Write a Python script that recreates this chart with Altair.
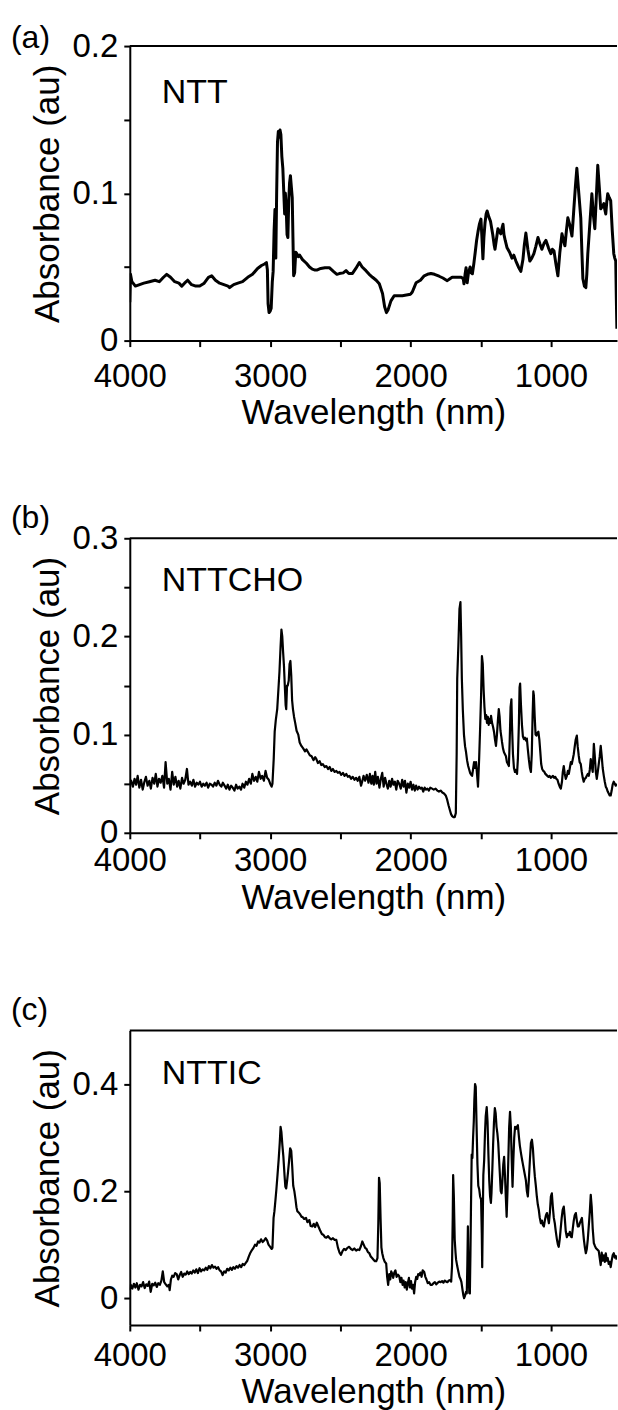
import altair as alt
import pandas as pd

# ---------------- data ----------------
panel_names = ["NTT", "NTTCHO", "NTTIC"]
panel_letters = ["(a)", "(b)", "(c)"]
x_title = "Wavelength (nm)"
y_title = "Absorbance (au)"
x_ticks = [4000, 3500, 3000, 2500, 2000, 1500, 1000]

spec_a = [
    (4000, 0.026), (3995, 0.045), (3985, 0.040), (3960, 0.037), (3930, 0.038), (3900, 0.039),
    (3860, 0.040), (3820, 0.041), (3790, 0.040), (3760, 0.043), (3737, 0.045), (3710, 0.043),
    (3680, 0.040), (3650, 0.039), (3630, 0.037), (3610, 0.039), (3588, 0.041), (3560, 0.038),
    (3530, 0.037), (3502, 0.037), (3470, 0.039), (3440, 0.043), (3417, 0.044), (3390, 0.041),
    (3360, 0.039), (3330, 0.038), (3300, 0.037), (3289, 0.036), (3260, 0.038), (3230, 0.039),
    (3197, 0.040), (3160, 0.043), (3126, 0.045), (3090, 0.049), (3062, 0.051), (3040, 0.052),
    (3027, 0.053), (3020, 0.048), (3015, 0.025), (3008, 0.019), (3000, 0.020), (2993, 0.022),
    (2985, 0.040), (2979, 0.047), (2972, 0.075), (2966, 0.089), (2960, 0.056), (2954, 0.100),
    (2948, 0.135), (2942, 0.142), (2936, 0.138), (2930, 0.143), (2924, 0.140), (2917, 0.125),
    (2910, 0.117), (2903, 0.100), (2897, 0.086), (2892, 0.100), (2886, 0.090), (2880, 0.072),
    (2874, 0.070), (2868, 0.095), (2862, 0.107), (2856, 0.112), (2850, 0.105), (2843, 0.097),
    (2838, 0.070), (2833, 0.044), (2826, 0.046), (2818, 0.060), (2810, 0.059), (2800, 0.057),
    (2790, 0.058), (2770, 0.055), (2742, 0.0525), (2720, 0.050), (2700, 0.0485), (2685, 0.048),
    (2664, 0.048), (2640, 0.049), (2610, 0.0495), (2579, 0.0495), (2550, 0.047), (2525, 0.045),
    (2508, 0.0455), (2480, 0.046), (2460, 0.0475), (2440, 0.0455), (2414, 0.0456), (2390, 0.049),
    (2365, 0.053), (2345, 0.050), (2318, 0.0475), (2295, 0.045), (2271, 0.043), (2245, 0.041),
    (2223, 0.0386), (2200, 0.032), (2185, 0.023), (2172, 0.019), (2160, 0.021), (2140, 0.027),
    (2117, 0.0305), (2090, 0.0305), (2059, 0.0305), (2030, 0.031), (2000, 0.0315), (1988, 0.033),
    (1975, 0.036), (1961, 0.0393), (1930, 0.041), (1903, 0.044), (1880, 0.045), (1855, 0.0456),
    (1830, 0.045), (1797, 0.0437), (1770, 0.0425), (1739, 0.0407), (1720, 0.042), (1704, 0.043),
    (1670, 0.043), (1640, 0.043), (1625, 0.042), (1620, 0.0386), (1612, 0.045), (1605, 0.0495),
    (1600, 0.044), (1597, 0.0393), (1588, 0.046), (1576, 0.050), (1568, 0.046), (1560, 0.0454),
    (1550, 0.052), (1541, 0.059), (1530, 0.068), (1520, 0.074), (1510, 0.079), (1499, 0.0825),
    (1492, 0.070), (1485, 0.0555), (1478, 0.070), (1470, 0.080), (1462, 0.086), (1455, 0.088),
    (1443, 0.084), (1431, 0.081), (1415, 0.072), (1405, 0.065), (1399, 0.062), (1390, 0.068),
    (1378, 0.076), (1367, 0.074), (1357, 0.0725), (1350, 0.076), (1342, 0.079), (1335, 0.072),
    (1326, 0.068), (1313, 0.063), (1295, 0.060), (1278, 0.056), (1265, 0.058), (1250, 0.054),
    (1232, 0.050), (1215, 0.047), (1200, 0.055), (1190, 0.065), (1179, 0.073), (1165, 0.062),
    (1151, 0.054), (1137, 0.056), (1122, 0.059), (1108, 0.064), (1093, 0.070), (1080, 0.066),
    (1065, 0.062), (1050, 0.066), (1036, 0.068), (1018, 0.063), (1001, 0.059), (990, 0.062),
    (979, 0.061), (965, 0.052), (951, 0.044), (937, 0.060), (922, 0.0725), (911, 0.068),
    (901, 0.0644), (890, 0.075), (880, 0.0834), (865, 0.078), (851, 0.071), (844, 0.080),
    (837, 0.090), (826, 0.105), (816, 0.117), (802, 0.100), (788, 0.0834), (780, 0.060),
    (773, 0.042), (762, 0.037), (752, 0.036), (745, 0.045), (738, 0.059), (723, 0.080),
    (709, 0.0997), (698, 0.085), (688, 0.076), (677, 0.098), (667, 0.119), (656, 0.104),
    (646, 0.0895), (635, 0.091), (624, 0.093), (617, 0.089), (610, 0.086), (603, 0.094),
    (596, 0.0997), (585, 0.097), (575, 0.095), (564, 0.075), (553, 0.059), (546, 0.056),
    (539, 0.054), (535, 0.030), (531, 0.008),
]

spec_b = [
    (4000, 0.050), (3990, 0.053), (3978, 0.047), (3966, 0.055), (3955, 0.049), (3944, 0.058),
    (3932, 0.046), (3920, 0.054), (3908, 0.044), (3896, 0.052), (3885, 0.057), (3873, 0.048),
    (3861, 0.053), (3850, 0.045), (3838, 0.056), (3826, 0.050), (3815, 0.060), (3803, 0.047),
    (3792, 0.055), (3780, 0.051), (3768, 0.058), (3756, 0.046), (3745, 0.072), (3733, 0.050),
    (3722, 0.055), (3710, 0.044), (3698, 0.062), (3687, 0.049), (3675, 0.057), (3663, 0.047),
    (3652, 0.053), (3640, 0.045), (3628, 0.056), (3617, 0.050), (3605, 0.054), (3593, 0.065),
    (3582, 0.049), (3570, 0.052), (3558, 0.048), (3547, 0.054), (3535, 0.047), (3523, 0.051),
    (3512, 0.049), (3500, 0.052), (3488, 0.047), (3477, 0.050), (3465, 0.048), (3453, 0.051),
    (3442, 0.046), (3430, 0.050), (3418, 0.049), (3407, 0.047), (3395, 0.051), (3383, 0.048),
    (3372, 0.053), (3360, 0.049), (3348, 0.047), (3337, 0.051), (3325, 0.048), (3313, 0.045),
    (3302, 0.049), (3290, 0.044), (3278, 0.048), (3267, 0.046), (3255, 0.043), (3243, 0.049),
    (3232, 0.045), (3220, 0.047), (3208, 0.044), (3197, 0.050), (3185, 0.046), (3173, 0.052),
    (3162, 0.049), (3150, 0.055), (3138, 0.050), (3127, 0.060), (3115, 0.053), (3103, 0.057),
    (3092, 0.052), (3080, 0.062), (3068, 0.055), (3057, 0.058), (3045, 0.053), (3033, 0.063),
    (3022, 0.056), (3010, 0.054), (3000, 0.050), (2990, 0.047), (2984, 0.050), (2975, 0.075),
    (2968, 0.103), (2960, 0.115), (2950, 0.126), (2942, 0.145), (2934, 0.164), (2926, 0.190),
    (2920, 0.207), (2914, 0.200), (2908, 0.184), (2902, 0.170), (2896, 0.150), (2890, 0.130),
    (2886, 0.126), (2880, 0.150), (2875, 0.150), (2868, 0.155), (2862, 0.172), (2856, 0.175),
    (2850, 0.160), (2844, 0.135), (2838, 0.126), (2830, 0.118), (2822, 0.112), (2812, 0.104),
    (2800, 0.100), (2790, 0.092), (2778, 0.0885), (2765, 0.086), (2752, 0.083), (2742, 0.085),
    (2730, 0.082), (2718, 0.079), (2705, 0.078), (2692, 0.074), (2680, 0.077), (2671, 0.075),
    (2660, 0.071), (2648, 0.073), (2636, 0.069), (2625, 0.070), (2612, 0.067), (2600, 0.068),
    (2588, 0.065), (2576, 0.067), (2565, 0.063), (2553, 0.065), (2541, 0.062), (2529, 0.063),
    (2518, 0.061), (2506, 0.062), (2494, 0.059), (2482, 0.061), (2470, 0.058), (2458, 0.060),
    (2447, 0.057), (2436, 0.058), (2424, 0.055), (2412, 0.057), (2400, 0.054), (2388, 0.056),
    (2377, 0.053), (2365, 0.057), (2353, 0.048), (2345, 0.052), (2335, 0.058), (2324, 0.053),
    (2312, 0.059), (2300, 0.051), (2290, 0.060), (2280, 0.050), (2271, 0.058), (2262, 0.049),
    (2252, 0.062), (2243, 0.050), (2233, 0.057), (2222, 0.046), (2212, 0.055), (2202, 0.061),
    (2192, 0.047), (2182, 0.056), (2172, 0.050), (2162, 0.045), (2152, 0.053), (2142, 0.047),
    (2132, 0.055), (2122, 0.049), (2112, 0.052), (2102, 0.044), (2092, 0.053), (2081, 0.050),
    (2070, 0.045), (2060, 0.054), (2050, 0.047), (2040, 0.053), (2030, 0.041), (2020, 0.050),
    (2010, 0.046), (2000, 0.052), (1990, 0.044), (1980, 0.049), (1970, 0.043), (1961, 0.048),
    (1950, 0.044), (1940, 0.047), (1930, 0.045), (1920, 0.046), (1910, 0.042), (1900, 0.046),
    (1890, 0.044), (1880, 0.045), (1870, 0.043), (1860, 0.046), (1847, 0.045), (1835, 0.044),
    (1822, 0.045), (1810, 0.043), (1798, 0.042), (1786, 0.043), (1774, 0.041), (1762, 0.040),
    (1750, 0.038), (1740, 0.034), (1730, 0.028), (1720, 0.023), (1712, 0.019), (1704, 0.017),
    (1695, 0.016), (1686, 0.016), (1678, 0.020), (1672, 0.080), (1668, 0.157), (1660, 0.190),
    (1652, 0.228), (1645, 0.235), (1640, 0.200), (1635, 0.157), (1628, 0.125), (1620, 0.100),
    (1612, 0.088), (1605, 0.082), (1598, 0.074), (1590, 0.068), (1584, 0.065), (1576, 0.061),
    (1568, 0.059), (1562, 0.058), (1555, 0.065), (1548, 0.072), (1541, 0.066), (1534, 0.072),
    (1527, 0.060), (1520, 0.047), (1512, 0.075), (1505, 0.106), (1498, 0.140), (1492, 0.180),
    (1486, 0.172), (1480, 0.146), (1474, 0.128), (1468, 0.116), (1462, 0.120), (1456, 0.112),
    (1450, 0.118), (1444, 0.110), (1438, 0.116), (1432, 0.112), (1427, 0.119), (1420, 0.112),
    (1413, 0.108), (1406, 0.103), (1399, 0.095), (1392, 0.0885), (1385, 0.100), (1378, 0.115),
    (1372, 0.126), (1366, 0.118), (1360, 0.104), (1354, 0.098), (1349, 0.0925), (1342, 0.086),
    (1335, 0.082), (1328, 0.080), (1321, 0.078), (1314, 0.072), (1307, 0.070), (1300, 0.068),
    (1294, 0.095), (1288, 0.128), (1282, 0.136), (1278, 0.110), (1271, 0.080), (1264, 0.066),
    (1257, 0.062), (1250, 0.064), (1242, 0.060), (1236, 0.075), (1229, 0.110), (1224, 0.148),
    (1220, 0.152), (1214, 0.130), (1207, 0.110), (1200, 0.098), (1193, 0.0955), (1186, 0.097),
    (1179, 0.094), (1172, 0.096), (1165, 0.085), (1158, 0.075), (1150, 0.066), (1143, 0.062),
    (1137, 0.080), (1131, 0.120), (1126, 0.144), (1122, 0.140), (1116, 0.118), (1110, 0.100),
    (1104, 0.099), (1097, 0.102), (1090, 0.103), (1083, 0.095), (1076, 0.082), (1070, 0.070),
    (1063, 0.065), (1055, 0.063), (1047, 0.062), (1040, 0.060), (1033, 0.059), (1026, 0.058),
    (1018, 0.057), (1010, 0.058), (1002, 0.056), (994, 0.057), (986, 0.058), (978, 0.056),
    (970, 0.057), (962, 0.055), (954, 0.054), (946, 0.050), (938, 0.047), (930, 0.045),
    (922, 0.052), (916, 0.062), (909, 0.068), (902, 0.060), (895, 0.055), (887, 0.058),
    (880, 0.063), (873, 0.060), (866, 0.066), (859, 0.072), (852, 0.070), (845, 0.075),
    (838, 0.080), (831, 0.088), (824, 0.095), (816, 0.099), (810, 0.088), (803, 0.079),
    (796, 0.072), (788, 0.070), (781, 0.062), (774, 0.056), (767, 0.052), (760, 0.055),
    (752, 0.056), (745, 0.058), (738, 0.060), (731, 0.058), (724, 0.064), (717, 0.075),
    (710, 0.068), (703, 0.062), (695, 0.0905), (688, 0.078), (681, 0.062), (674, 0.055),
    (667, 0.062), (660, 0.070), (653, 0.078), (646, 0.0885), (639, 0.078), (632, 0.066),
    (624, 0.058), (617, 0.052), (610, 0.047), (603, 0.045), (596, 0.042), (589, 0.040),
    (582, 0.038), (575, 0.038), (568, 0.043), (561, 0.049), (553, 0.052), (546, 0.050),
    (539, 0.048), (532, 0.050),
]

spec_c = [
    (4000, 0.015), (3993, 0.025), (3982, 0.018), (3971, 0.027), (3960, 0.020), (3950, 0.028),
    (3938, 0.016), (3927, 0.025), (3916, 0.022), (3905, 0.030), (3894, 0.019), (3883, 0.026),
    (3872, 0.023), (3862, 0.031), (3851, 0.012), (3840, 0.027), (3830, 0.024), (3819, 0.029),
    (3808, 0.021), (3797, 0.028), (3786, 0.025), (3775, 0.033), (3765, 0.050), (3755, 0.030),
    (3744, 0.026), (3733, 0.022), (3722, 0.025), (3716, 0.015), (3707, 0.035), (3698, 0.042),
    (3688, 0.040), (3677, 0.047), (3666, 0.045), (3655, 0.035), (3645, 0.043), (3634, 0.049),
    (3623, 0.040), (3612, 0.046), (3602, 0.044), (3591, 0.050), (3580, 0.045), (3569, 0.049),
    (3559, 0.046), (3548, 0.052), (3537, 0.048), (3526, 0.054), (3515, 0.047), (3503, 0.056),
    (3492, 0.050), (3481, 0.054), (3470, 0.052), (3459, 0.057), (3448, 0.053), (3437, 0.060),
    (3426, 0.056), (3415, 0.062), (3404, 0.057), (3393, 0.059), (3382, 0.055), (3371, 0.058),
    (3360, 0.052), (3350, 0.050), (3339, 0.043), (3328, 0.050), (3317, 0.048), (3306, 0.055),
    (3295, 0.052), (3284, 0.057), (3273, 0.053), (3262, 0.058), (3251, 0.055), (3240, 0.060),
    (3229, 0.057), (3218, 0.062), (3207, 0.058), (3196, 0.064), (3185, 0.062), (3174, 0.066),
    (3163, 0.070), (3152, 0.078), (3141, 0.085), (3130, 0.090), (3119, 0.094), (3108, 0.100),
    (3097, 0.098), (3086, 0.106), (3076, 0.104), (3065, 0.110), (3054, 0.105), (3043, 0.108),
    (3032, 0.112), (3022, 0.108), (3012, 0.100), (3000, 0.096), (2990, 0.092), (2984, 0.094),
    (2976, 0.150), (2970, 0.162), (2962, 0.185), (2956, 0.203), (2948, 0.230), (2940, 0.258),
    (2932, 0.290), (2926, 0.320), (2920, 0.310), (2913, 0.285), (2906, 0.264), (2898, 0.230),
    (2892, 0.208), (2886, 0.205), (2880, 0.218), (2874, 0.233), (2866, 0.255), (2858, 0.280),
    (2850, 0.275), (2843, 0.245), (2836, 0.210), (2828, 0.200), (2820, 0.185), (2813, 0.170),
    (2806, 0.162), (2796, 0.160), (2785, 0.156), (2777, 0.152), (2770, 0.152), (2758, 0.148),
    (2745, 0.150), (2735, 0.142), (2721, 0.146), (2712, 0.135), (2700, 0.134), (2690, 0.139),
    (2680, 0.133), (2668, 0.141), (2655, 0.133), (2645, 0.127), (2632, 0.120), (2620, 0.118),
    (2610, 0.114), (2600, 0.113), (2588, 0.116), (2576, 0.112), (2565, 0.110), (2553, 0.112),
    (2541, 0.109), (2529, 0.109), (2518, 0.095), (2506, 0.085), (2496, 0.081), (2485, 0.088),
    (2474, 0.092), (2462, 0.090), (2450, 0.094), (2437, 0.096), (2425, 0.092), (2413, 0.090),
    (2401, 0.093), (2388, 0.089), (2376, 0.091), (2365, 0.090), (2354, 0.097), (2344, 0.106),
    (2334, 0.100), (2324, 0.094), (2314, 0.092), (2304, 0.086), (2294, 0.084), (2284, 0.078),
    (2274, 0.075), (2264, 0.072), (2254, 0.069), (2245, 0.069), (2236, 0.075), (2230, 0.140),
    (2225, 0.225), (2220, 0.215), (2214, 0.150), (2208, 0.095), (2202, 0.084), (2194, 0.075),
    (2184, 0.068), (2174, 0.065), (2167, 0.040), (2160, 0.025), (2152, 0.045), (2145, 0.035),
    (2138, 0.050), (2131, 0.046), (2124, 0.038), (2116, 0.048), (2108, 0.052), (2100, 0.040),
    (2090, 0.044), (2081, 0.041), (2073, 0.030), (2065, 0.038), (2057, 0.025), (2050, 0.033),
    (2042, 0.020), (2035, 0.030), (2027, 0.016), (2020, 0.028), (2012, 0.038), (2005, 0.020),
    (1997, 0.032), (1990, 0.018), (1982, 0.025), (1975, 0.009), (1968, 0.030), (1960, 0.040),
    (1953, 0.036), (1946, 0.045), (1939, 0.043), (1930, 0.048), (1922, 0.040), (1914, 0.052),
    (1903, 0.049), (1895, 0.040), (1887, 0.035), (1878, 0.028), (1868, 0.030), (1858, 0.025),
    (1847, 0.025), (1837, 0.028), (1827, 0.030), (1817, 0.026), (1806, 0.029), (1796, 0.031),
    (1786, 0.030), (1776, 0.032), (1766, 0.029), (1757, 0.033), (1747, 0.031), (1738, 0.030),
    (1728, 0.033), (1718, 0.034), (1711, 0.031), (1705, 0.060), (1700, 0.150), (1697, 0.230),
    (1692, 0.190), (1686, 0.110), (1680, 0.085), (1676, 0.072), (1668, 0.060), (1660, 0.050),
    (1652, 0.040), (1645, 0.036), (1638, 0.030), (1630, 0.015), (1624, 0.005), (1619, 0.000),
    (1612, 0.005), (1605, 0.012), (1600, 0.009), (1596, 0.060), (1592, 0.134), (1588, 0.060),
    (1582, 0.010), (1578, 0.009), (1574, 0.080), (1570, 0.170), (1565, 0.268), (1560, 0.262),
    (1555, 0.300), (1550, 0.330), (1546, 0.370), (1541, 0.400), (1536, 0.395), (1530, 0.320),
    (1524, 0.250), (1518, 0.210), (1511, 0.203), (1505, 0.190), (1498, 0.184), (1493, 0.120),
    (1490, 0.058), (1486, 0.150), (1482, 0.230), (1476, 0.258), (1470, 0.310), (1465, 0.340),
    (1458, 0.357), (1452, 0.330), (1446, 0.270), (1440, 0.220), (1434, 0.190), (1428, 0.178),
    (1424, 0.196), (1418, 0.240), (1412, 0.290), (1406, 0.330), (1400, 0.355), (1394, 0.345),
    (1388, 0.320), (1382, 0.308), (1376, 0.290), (1370, 0.260), (1364, 0.230), (1358, 0.200),
    (1352, 0.196), (1346, 0.220), (1340, 0.250), (1334, 0.264), (1328, 0.230), (1322, 0.190),
    (1316, 0.152), (1310, 0.200), (1304, 0.260), (1298, 0.320), (1292, 0.348), (1286, 0.320),
    (1280, 0.260), (1274, 0.208), (1268, 0.260), (1262, 0.300), (1256, 0.320), (1250, 0.316),
    (1243, 0.320), (1236, 0.323), (1228, 0.300), (1222, 0.285), (1214, 0.271), (1207, 0.260),
    (1200, 0.250), (1193, 0.240), (1186, 0.230), (1179, 0.220), (1172, 0.200), (1165, 0.190),
    (1158, 0.220), (1150, 0.260), (1143, 0.290), (1136, 0.296), (1129, 0.280), (1122, 0.250),
    (1115, 0.227), (1108, 0.210), (1101, 0.190), (1094, 0.175), (1087, 0.165), (1080, 0.150),
    (1072, 0.140), (1065, 0.145), (1058, 0.137), (1051, 0.134), (1044, 0.145), (1036, 0.155),
    (1029, 0.159), (1022, 0.150), (1015, 0.140), (1008, 0.160), (1001, 0.190), (994, 0.196),
    (987, 0.170), (980, 0.150), (973, 0.140), (966, 0.125), (958, 0.110), (951, 0.100),
    (945, 0.096), (938, 0.110), (931, 0.130), (924, 0.150), (917, 0.165), (909, 0.171),
    (902, 0.150), (895, 0.125), (887, 0.114), (880, 0.120), (873, 0.118), (866, 0.124),
    (859, 0.115), (852, 0.114), (845, 0.130), (838, 0.145), (831, 0.155), (823, 0.159),
    (816, 0.145), (809, 0.134), (802, 0.134), (795, 0.140), (788, 0.145), (780, 0.150),
    (773, 0.130), (766, 0.110), (759, 0.095), (752, 0.084), (745, 0.092), (738, 0.110),
    (731, 0.135), (724, 0.160), (717, 0.193), (710, 0.170), (703, 0.130), (695, 0.103),
    (688, 0.098), (681, 0.094), (674, 0.092), (667, 0.090), (660, 0.088), (653, 0.075),
    (646, 0.062), (639, 0.085), (632, 0.070), (624, 0.080), (617, 0.068), (610, 0.084),
    (603, 0.070), (596, 0.075), (589, 0.064), (582, 0.068), (575, 0.058), (568, 0.070),
    (561, 0.080), (553, 0.084), (546, 0.076), (539, 0.079), (532, 0.072),
]

y_domains = [[0, 0.2], [0, 0.3], [-0.05, 0.5]]
y_tick_values = [[0, 0.05, 0.1, 0.15, 0.2], [0, 0.05, 0.1, 0.15, 0.2, 0.25, 0.3], [0, 0.2, 0.4]]

# ---------------- layout/style ----------------
W, H = 488, 295
FONT = "Liberation Sans"
LABEL_FS = 33
TITLE_FS = 35
NAME_FS = 34
LETTER_FS = 32
line_widths = [3.0, 2.2, 2.2]
x_label_pad = [14, 6, 9]
x_title_pad = [2, 3, 2]
name_pos = [(32, 57), (32, 53), (32, 54)]      # baseline position inside plot
letter_pos = [(-119, 2), (-119, -10), (-119, -10)]


def panel(spec, k):
    df = pd.DataFrame(spec, columns=["wn", "ab"])
    df["i"] = range(len(df))
    line = alt.Chart(df).mark_line(
        color="black", strokeWidth=line_widths[k], strokeJoin="round", clip=True
    ).encode(
        x=alt.X("wn:Q",
                scale=alt.Scale(domain=[4000, 530], nice=False, zero=False),
                axis=alt.Axis(values=x_ticks, title=x_title,
                              labelExpr="datum.value % 1000 === 0 ? format(datum.value, 'd') : ''",
                              labelFlush=False, labelOverlap=False,
                              labelPadding=x_label_pad[k], titlePadding=x_title_pad[k])),
        y=alt.Y("ab:Q",
                scale=alt.Scale(domain=y_domains[k], nice=False, zero=False),
                axis=alt.Axis(values=y_tick_values[k], title=y_title,
                              labelExpr="abs(round(datum.value*10) - datum.value*10) < 0.001 ? format(datum.value, '.1~f') : ''",
                              labelOverlap=False, labelPadding=6, titlePadding=7)),
        order="i:Q",
    )
    top = alt.Chart(pd.DataFrame({"k": [0]})).mark_rule(
        color="black", strokeWidth=2
    ).encode(x=alt.value(0), x2=alt.value(W), y=alt.value(0))
    name = alt.Chart(pd.DataFrame({"t": [panel_names[k]]})).mark_text(
        font=FONT, fontSize=NAME_FS, align="left", baseline="alphabetic", color="black"
    ).encode(text="t:N", x=alt.value(name_pos[k][0]), y=alt.value(name_pos[k][1]))
    letter = alt.Chart(pd.DataFrame({"t": [panel_letters[k]]})).mark_text(
        font=FONT, fontSize=LETTER_FS, align="left", baseline="alphabetic", color="black"
    ).encode(text="t:N", x=alt.value(letter_pos[k][0]), y=alt.value(letter_pos[k][1]))
    return alt.layer(line, top, name, letter).properties(width=W, height=H)


chart = alt.vconcat(
    panel(spec_a, 0), panel(spec_b, 1), panel(spec_c, 2),
    spacing=198, bounds="flush",
).properties(
    padding={"left": 11, "top": 21, "right": 0, "bottom": 0},
    background="white",
).configure_view(stroke=None).configure_axis(
    grid=False,
    domainColor="black", domainWidth=2,
    tickColor="black", tickWidth=2, tickSize=6,
    labelFont=FONT, labelFontSize=LABEL_FS, labelColor="black",
    titleFont=FONT, titleFontSize=TITLE_FS, titleColor="black", titleFontWeight="normal",
)

chart.save("out.html", embed_options={"renderer": "svg", "actions": False})
